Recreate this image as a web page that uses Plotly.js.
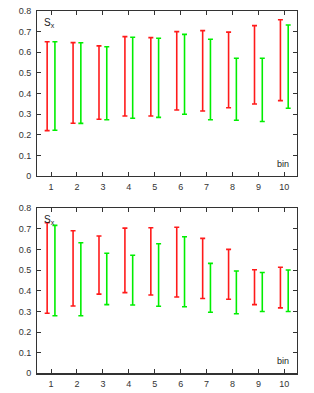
<!DOCTYPE html>
<html>
<head>
<meta charset="utf-8">
<script src="https://cdn.plot.ly/plotly-3.0.1.min.js"></script>
<style>html,body{margin:0;padding:0;background:#fff;}#plot{width:314px;height:393px;}</style>
</head>
<body>
<div id="plot"></div>
<script>
const bins = [1,2,3,4,5,6,7,8,9,10];
// top panel
const topRedLow   = [0.221,0.257,0.276,0.292,0.292,0.321,0.316,0.332,0.350,0.366];
const topRedHigh  = [0.651,0.647,0.631,0.676,0.671,0.700,0.705,0.698,0.729,0.758];
const topGreenLow = [0.223,0.256,0.274,0.281,0.285,0.300,0.274,0.271,0.265,0.329];
const topGreenHigh= [0.651,0.646,0.627,0.673,0.668,0.687,0.663,0.571,0.571,0.732];
// bottom panel
const botRedLow   = [0.291,0.326,0.384,0.391,0.380,0.370,0.363,0.359,0.333,0.317];
const botRedHigh  = [0.730,0.691,0.666,0.704,0.706,0.708,0.654,0.601,0.502,0.514];
const botGreenLow = [0.279,0.279,0.333,0.331,0.325,0.323,0.296,0.289,0.300,0.300];
const botGreenHigh= [0.717,0.633,0.582,0.572,0.628,0.662,0.533,0.496,0.489,0.501];
const yTicks = [0,0.1,0.2,0.3,0.4,0.5,0.6,0.7,0.8];
const yTickText = ['0','0.1','0.2','0.3','0.4','0.5','0.6','0.7','0.8'];

const RED = '#ff1a1a', GREEN = '#00ee00';
function barTrace(lo, hi, off, color, xa, ya){
  return {
    type:'scatter', mode:'markers',
    x: bins.map(b => b + off),
    y: lo.map((v,i) => (v + hi[i]) / 2),
    xaxis: xa, yaxis: ya,
    marker:{size:1, opacity:0},
    error_y:{type:'data', symmetric:true, array: lo.map((v,i)=>(hi[i]-v)/2),
             color: color, thickness: 1.6, width: 2.5},
    hoverinfo:'none', showlegend:false
  };
}
const data = [
  barTrace(topRedLow, topRedHigh, -0.15, RED, 'x', 'y'),
  barTrace(topGreenLow, topGreenHigh, 0.15, GREEN, 'x', 'y'),
  barTrace(botRedLow, botRedHigh, -0.15, RED, 'x2', 'y2'),
  barTrace(botGreenLow, botGreenHigh, 0.15, GREEN, 'x2', 'y2')
];
const font = {family:'Liberation Sans, Arial, sans-serif', size:9, color:'#333'};
function xax(anchor){
  return {domain:[0.1188,0.9459], range:[0.47,10.49], anchor:anchor,
    tickvals:bins, ticktext:bins.map(String), ticks:'inside', ticklen:4, tickcolor:'#333',
    showline:true, linecolor:'#333', linewidth:1.2, mirror:'ticks',
    showgrid:false, zeroline:false, tickfont:font, ticklabelstandoff:2, fixedrange:true};
}
function yax(anchor, dom){
  return {domain:dom, range:[0,0.8], anchor:anchor,
    tickvals:yTicks, ticktext:yTickText, ticks:'inside', ticklen:4, tickcolor:'#333',
    showline:true, linecolor:'#333', linewidth:1.2, mirror:'ticks',
    showgrid:false, zeroline:false, tickfont:font, ticklabelstandoff:3, fixedrange:true};
}
const layout = {
  width:314, height:393,
  margin:{l:0,r:0,t:0,b:0},
  paper_bgcolor:'#fff', plot_bgcolor:'#fff',
  font: font,
  xaxis: xax('y'), yaxis: yax('x',[0.5514,0.972]),
  xaxis2: xax('y2'), yaxis2: yax('x2',[0.0501,0.470]),
  annotations:[
    {xref:'x domain', yref:'y domain', x:0.02, y:0.975, xanchor:'left', yanchor:'top',
     text:'S<sub>x</sub>', showarrow:false, font:{family:font.family,size:10,color:'#222'}},
    {xref:'x domain', yref:'y domain', x:0.975, y:0.03, xanchor:'right', yanchor:'bottom',
     text:'bin', showarrow:false, font:{family:font.family,size:9,color:'#222'}},
    {xref:'x2 domain', yref:'y2 domain', x:0.02, y:0.975, xanchor:'left', yanchor:'top',
     text:'S<sub>x</sub>', showarrow:false, font:{family:font.family,size:10,color:'#222'}},
    {xref:'x2 domain', yref:'y2 domain', x:0.975, y:0.03, xanchor:'right', yanchor:'bottom',
     text:'bin', showarrow:false, font:{family:font.family,size:9,color:'#222'}}
  ]
};
Plotly.newPlot('plot', data, layout, {displayModeBar:false, staticPlot:true});
</script>
</body>
</html>
